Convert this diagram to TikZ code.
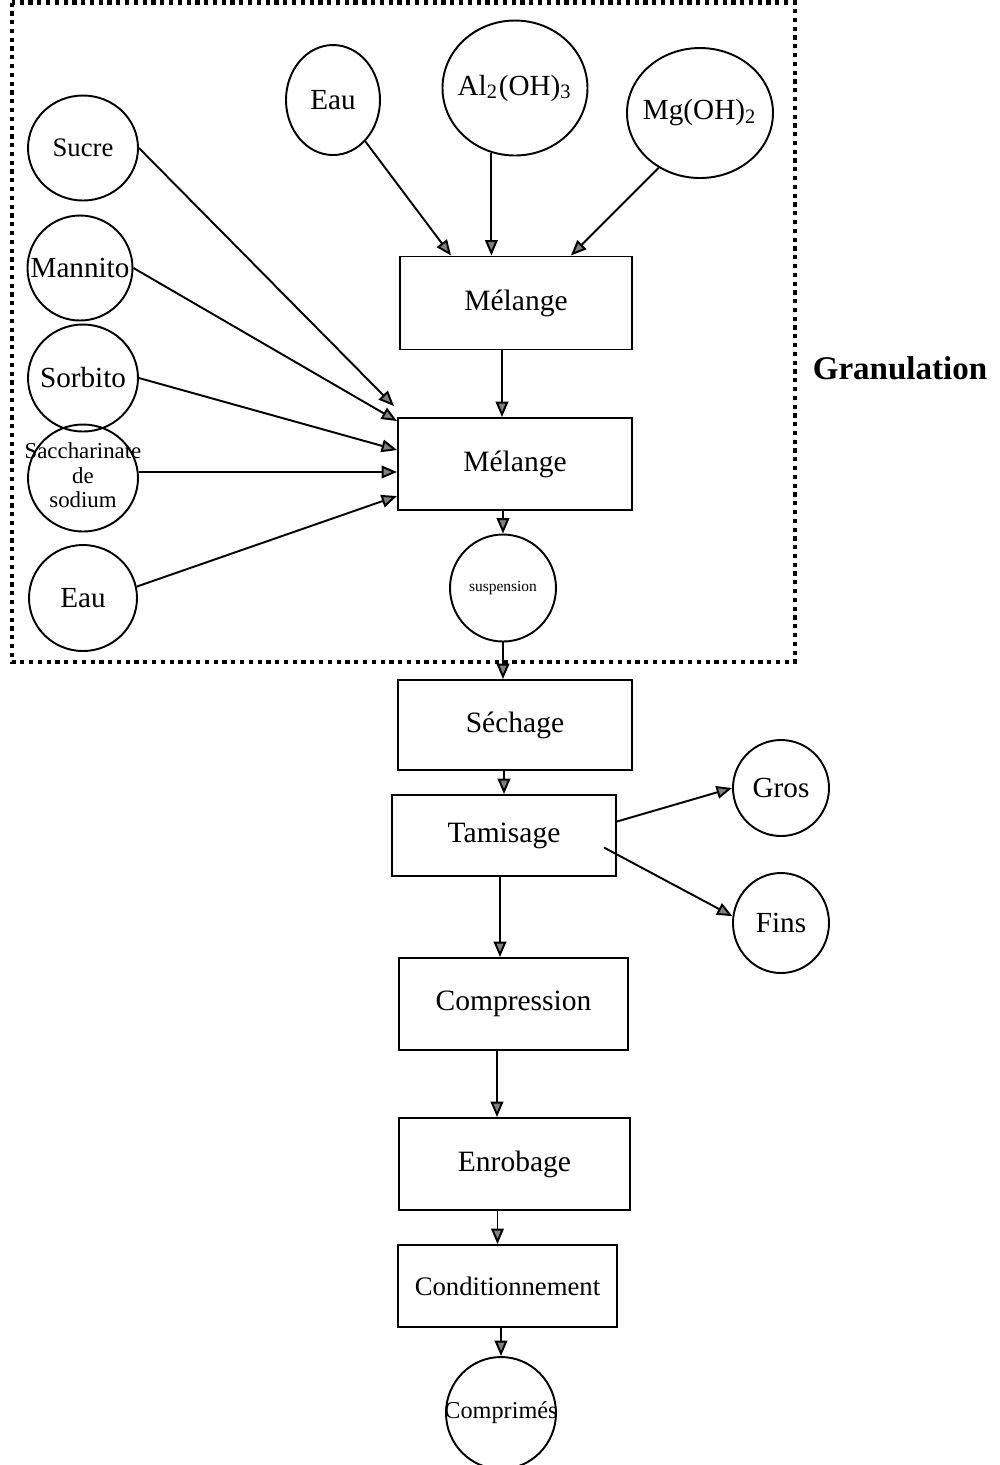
\documentclass[tikz,border=0pt]{standalone}
\usepackage{fontspec}
\setmainfont{Liberation Serif}
\usetikzlibrary{arrows.meta,positioning,shapes.geometric}

\begin{document}
\begin{tikzpicture}[
  stage/.style={draw, line width=0.55pt, inner sep=0pt, font=\fontsize{8.4}{10}\selectfont},
  input/.style={draw, ellipse, line width=0.55pt, inner sep=0pt, font=\fontsize{8.3}{10}\selectfont},
  flow/.style={-{Triangle[length=4.4pt,width=3.6pt,fill=black!50]}, line width=0.55pt},
  zone/.style={line width=1.2pt, dash pattern=on 1.2pt off 1.3pt}
]
  \useasboundingbox (0,0) rectangle (10,-14.65);

  % Granulation zone
  \draw[zone] (0.12,-0.025) rectangle (7.95,-6.62);
  \node[font=\fontsize{9.4}{11}\selectfont\bfseries] (gran) at (9.00,-3.68) {Granulation};

  % Top inputs
  \node[input, minimum width=0.94cm, minimum height=1.10cm] (eauA) at (3.33,-1.00) {Eau};
  \node[input, minimum width=1.45cm, minimum height=1.35cm] (alu) at (5.15,-0.88) {\makebox[0pt]{Al\textsubscript{2}(OH)\textsubscript{3}}};
  \node[input, minimum width=1.46cm, minimum height=1.30cm] (mg) at (7.00,-1.13) {\makebox[0pt]{Mg(OH)\textsubscript{2}}};

  % Left inputs
  \node[input, minimum width=1.10cm, minimum height=1.05cm, font=\fontsize{7.6}{9}\selectfont] (sucre) at (0.83,-1.48) {Sucre};
  \node[input, minimum width=1.05cm, minimum height=1.05cm] (mannito) at (0.80,-2.68) {\makebox[0pt]{Mannito}};
  \node[input, minimum width=1.10cm, minimum height=1.07cm] (sorbito) at (0.83,-3.78) {\makebox[0pt]{Sorbito}};
  \node[input, minimum width=1.10cm, minimum height=1.07cm, font=\fontsize{6.5}{7.1}\selectfont] (sacch) at (0.83,-4.78)
    {\makebox[0pt]{\begin{tabular}{@{}c@{}}Saccharinate\\de\\sodium\end{tabular}}};
  \node[input, minimum width=1.08cm, minimum height=1.06cm] (eauB) at (0.83,-5.98) {Eau};

  % Process steps
  \node[stage, minimum width=2.32cm, minimum height=0.93cm] (melA) at (5.16,-3.03) {Mélange};
  \node[stage, minimum width=2.34cm, minimum height=0.92cm] (melB) at (5.15,-4.64) {Mélange};
  \node[input, minimum width=1.06cm, minimum height=1.07cm, font=\fontsize{4.4}{5}\selectfont] (susp) at (5.03,-5.88) {suspension};
  \node[stage, minimum width=2.34cm, minimum height=0.90cm] (sech) at (5.15,-7.25) {Séchage};
  \node[stage, minimum width=2.24cm, minimum height=0.81cm] (tam) at (5.04,-8.355) {Tamisage};
  \node[input, minimum width=0.96cm, minimum height=0.96cm] (gros) at (7.81,-7.88) {Gros};
  \node[input, minimum width=0.96cm, minimum height=1.00cm] (fins) at (7.81,-9.23) {Fins};
  \node[stage, minimum width=2.29cm, minimum height=0.92cm] (comp) at (5.135,-10.04) {Compression};
  \node[stage, minimum width=2.31cm, minimum height=0.92cm] (enr) at (5.145,-11.64) {Enrobage};
  \node[stage, minimum width=2.19cm, minimum height=0.82cm, font=\fontsize{7.6}{9}\selectfont] (cond) at (5.075,-12.86) {Conditionnement};
  \node[input, minimum width=1.10cm, minimum height=1.12cm, font=\fontsize{6.9}{8}\selectfont] (compr) at (5.01,-14.13) {\makebox[0pt]{Comprimés}};

  % Arrows into the first mixing
  \draw[flow] (eauA.-52) -- ([xshift=0.52cm]melA.north west);
  \draw[flow] (alu.-110) -- (alu.-110 |- melA.north);
  \draw[flow] (mg.-127) -- ([xshift=-0.62cm]melA.north east);
  \draw[flow] ([xshift=-0.14cm]melA.south) -- ([xshift=-0.14cm]melA.south |- melB.north);

  % Arrows into the second mixing
  \draw[flow] (sucre.east) -- ([xshift=-0.03cm,yshift=0.11cm]melB.north west);
  \draw[flow] (mannito.east) -- ([yshift=-0.04cm]melB.north west);
  \draw[flow] (sorbito.east) -- ([yshift=-0.33cm]melB.north west);
  \draw[flow] ([yshift=0.06cm]sacch.east) -- ([yshift=0.06cm]sacch.east -| melB.west);
  \draw[flow] (eauB.12) -- ([yshift=-0.79cm]melB.north west);

  % Main line
  \draw[flow] (melB.south -| susp) -- (susp);
  \draw[flow] (susp) -- (susp |- sech.north);
  \draw[flow] (sech.south -| tam) -- (tam);
  \draw[flow] ([yshift=0.14cm]tam.east) -- (gros.west);
  \draw[flow] ([xshift=-0.13cm,yshift=-0.12cm]tam.east) -- (fins.172);
  \draw[flow] ([xshift=-0.04cm]tam.south) -- ([xshift=-0.04cm]tam.south |- comp.north);
  \draw[flow] ([xshift=-0.165cm]comp.south) -- ([xshift=-0.165cm]comp.south |- enr.north);
  \draw[flow] ([xshift=-0.17cm]enr.south) -- ([xshift=-0.17cm]enr.south |- cond.north);
  \draw[flow] (cond.south -| compr) -- (compr);
\end{tikzpicture}
\end{document}
